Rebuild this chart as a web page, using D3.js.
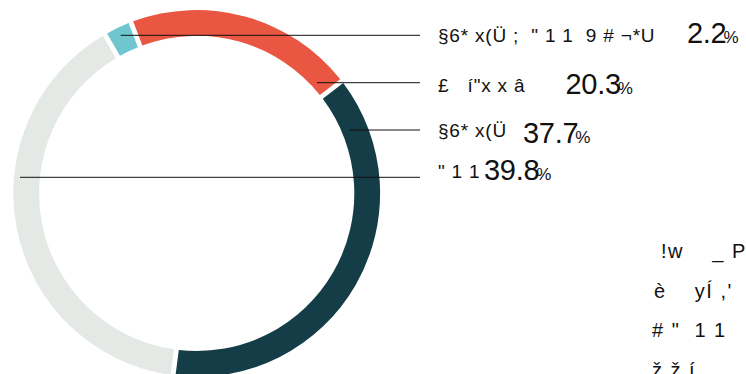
<!DOCTYPE html>
<html>
<head>
<meta charset="utf-8">
<script src="https://cdn.jsdelivr.net/npm/d3@7"></script>
<style>
  html, body { margin: 0; padding: 0; background: #ffffff; }
  svg { display: block; }
  text { font-family: "Liberation Sans", Arial, sans-serif; fill: #111; white-space: pre; }
</style>
</head>
<body>
<svg id="chart" width="746" height="374"></svg>
<script>
// ---- data ----
const categories = ['§6* x(Ü ;  " 1 1  9 # ¬*U', '£   í"x x â', '§6* x(Ü', '" 1 1'];
const values = [2.2, 20.3, 37.7, 39.8];
const colors = ["#6fc6cf", "#e95642", "#143d47", "#e4e9e6"];
const noteLines = ['!w    _ P', 'è    yÍ ,\'', '# "  1 1', 'ž ž í'];

// ---- layout ----
const W = 746, H = 374;
const cx = 196.7, cy = 193.4;
const outerR = 183.4, innerR = 157.6;
const startDeg = -30;
const labelX = 438;
const lineEndX = 420;
const lineY = [35.3, 82.7, 130, 177.3];
const lineStartX = [120.7, 317, 349, 20];
const smallBaseline = [42, 91.5, 137.3, 178.3];
const bigBaseline = [43.3, 94.3, 143.3, 180];
const bigX = [687, 565.5, 523, 484];
const noteX = [661, 654, 652, 652];
const noteBaseline = [258, 297.5, 337, 376.5];

const svg = d3.select("#chart");

const pie = d3.pie()
  .sort(null)
  .value(d => d)
  .startAngle(startDeg * Math.PI / 180)
  .endAngle(startDeg * Math.PI / 180 + 2 * Math.PI)
  .padAngle(0.02);

const arc = d3.arc().innerRadius(innerR).outerRadius(outerR);

const g = svg.append("g").attr("transform", `translate(${cx},${cy})`);
g.selectAll("path")
  .data(pie(values))
  .join("path")
  .attr("d", arc)
  .attr("fill", (d, i) => colors[i]);

// leader lines
svg.append("g").selectAll("line")
  .data(values)
  .join("line")
  .attr("x1", (d, i) => lineStartX[i])
  .attr("x2", lineEndX)
  .attr("y1", (d, i) => lineY[i])
  .attr("y2", (d, i) => lineY[i])
  .attr("stroke", "#111")
  .attr("stroke-width", 1);

// labels
const lab = svg.append("g");
lab.selectAll("text.cat")
  .data(categories)
  .join("text")
  .attr("class", "cat")
  .attr("x", labelX)
  .attr("y", (d, i) => smallBaseline[i])
  .attr("font-size", 19)
  .attr("letter-spacing", 0.8)
  .text(d => d);

const vt = lab.selectAll("text.val")
  .data(values)
  .join("text")
  .attr("class", "val")
  .attr("x", (d, i) => bigX[i])
  .attr("y", (d, i) => bigBaseline[i]);
vt.append("tspan").attr("font-size", 29).attr("letter-spacing", -0.3).text(d => d.toFixed(1));
vt.append("tspan").attr("font-size", 17).attr("dx", -3).text("%");

// bottom-right note
svg.append("g").selectAll("text")
  .data(noteLines)
  .join("text")
  .attr("x", (d, i) => noteX[i])
  .attr("y", (d, i) => noteBaseline[i])
  .attr("font-size", 20)
  .attr("letter-spacing", 1.5)
  .text(d => d);
</script>
</body>
</html>
